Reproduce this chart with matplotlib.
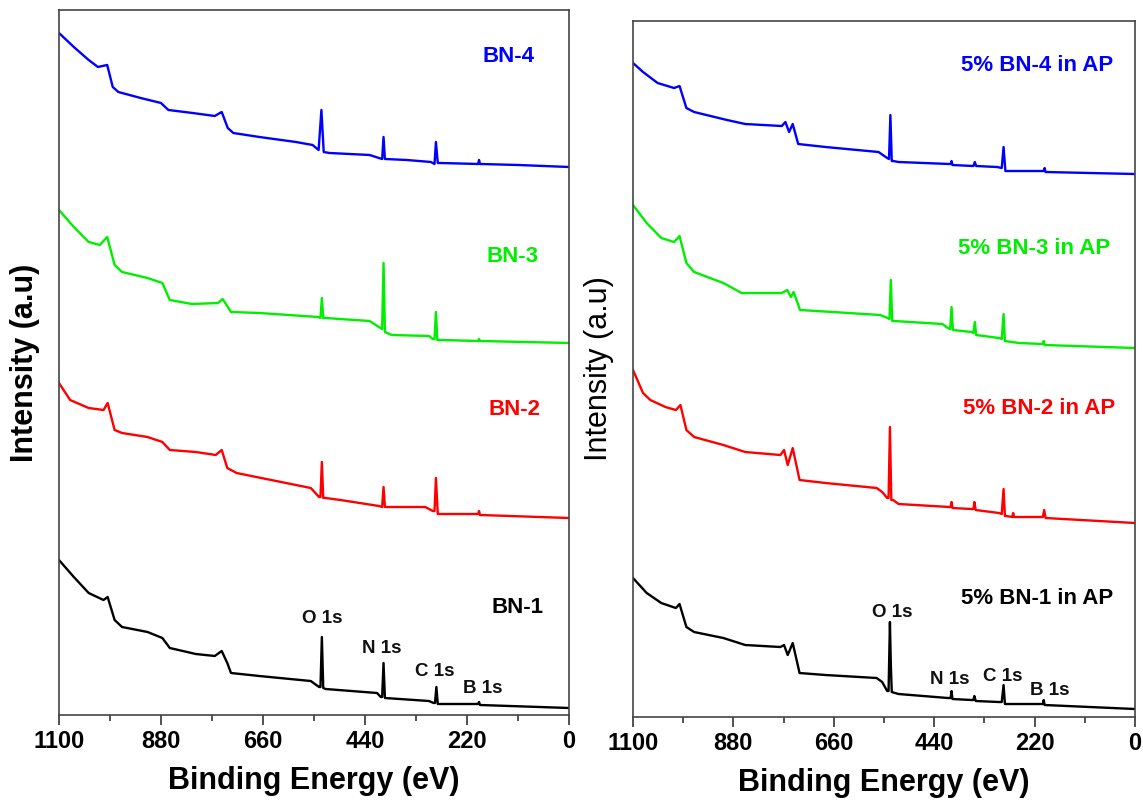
import numpy as np
import matplotlib
matplotlib.use("Agg")
import matplotlib.pyplot as plt
from matplotlib.ticker import MultipleLocator

plt.rcParams['font.family'] = ['Liberation Sans', 'DejaVu Sans']

# ---- data (binding energy in eV, intensity in a.u.) ----
# left panel: BN-1 .. BN-4
bn4_e = [1100, 1068, 1036, 1016, 996, 984, 972, 924, 880, 864, 812, 764, 749, 736, 724, 668, 589, 553, 540, 534, 529, 517, 430, 410, 403, 400, 397, 350, 298, 290, 287, 283, 278, 196, 194, 192, 110, 0]
bn4_i = [682, 668, 655, 648, 650, 628, 623, 617, 612, 605, 602, 599, 603, 587, 582, 578, 573, 570, 565, 605, 563, 562, 560, 557, 556, 578, 556, 555, 553, 551, 573, 552, 552, 551, 555, 551, 550, 548]

bn3_e = [1100, 1068, 1036, 1012, 996, 980, 964, 909, 877, 861, 813, 757, 747, 729, 668, 541, 536, 533, 530, 525, 430, 410, 403, 400, 397, 382, 302, 294, 290, 287, 284, 278, 196, 194, 192, 0]
bn3_i = [505, 488, 473, 470, 478, 450, 443, 437, 432, 415, 411, 412, 416, 403, 402, 398, 397, 417, 397, 397, 394, 388, 386, 452, 383, 380, 379, 376, 376, 403, 375, 375, 374, 376, 374, 372]

bn2_e = [1100, 1076, 1036, 1004, 995, 980, 964, 909, 877, 861, 805, 762, 749, 737, 717, 621, 557, 539, 536, 533, 530, 525, 493, 410, 403, 400, 397, 310, 294, 290, 287, 283, 274, 196, 194, 192, 0]
bn2_i = [332, 315, 307, 305, 312, 285, 282, 278, 273, 265, 263, 260, 265, 247, 242, 233, 227, 218, 218, 253, 217, 217, 215, 209, 208, 228, 208, 208, 204, 204, 237, 201, 201, 201, 204, 200, 197]

bn1_e = [1100, 1068, 1036, 1004, 995, 980, 964, 909, 877, 861, 805, 764, 749, 737, 729, 668, 557, 539, 536, 533, 530, 525, 414, 406, 403, 400, 397, 302, 292, 289, 286, 283, 278, 196, 194, 192, 0]
bn1_i = [155, 138, 122, 115, 118, 95, 88, 83, 77, 67, 61, 59, 64, 52, 42, 39, 34, 28, 28, 78, 27, 26, 22, 18, 18, 52, 17, 14, 12, 12, 28, 11, 11, 11, 13, 10, 7]

# right panel: 5% BN-x in AP
ap4_e = [1100, 1078, 1046, 1010, 998, 983, 966, 894, 854, 774, 766, 758, 750, 738, 678, 562, 543, 539, 536, 533, 530, 518, 406, 404, 402, 400, 354, 351, 348, 302, 292, 288, 284, 278, 200, 198, 196, 0]
ap4_i = [654, 645, 634, 629, 631, 609, 605, 597, 593, 591, 595, 585, 593, 573, 570, 565, 559, 558, 602, 556, 556, 555, 553, 553, 556, 552, 551, 555, 551, 550, 549, 570, 546, 546, 546, 549, 545, 543]

ap3_e = [1100, 1070, 1038, 1010, 998, 983, 966, 902, 862, 774, 762, 754, 748, 734, 662, 558, 542, 538, 535, 532, 527, 422, 410, 405, 402, 399, 358, 354, 351, 348, 298, 292, 288, 285, 254, 202, 200, 198, 0]
ap3_i = [512, 494, 479, 475, 481, 454, 445, 434, 424, 424, 427, 420, 425, 407, 405, 402, 399, 398, 437, 396, 396, 393, 389, 388, 410, 387, 385, 384, 395, 382, 379, 378, 403, 376, 374, 373, 376, 372, 369]

ap2_e = [1100, 1078, 1062, 1029, 1006, 996, 983, 966, 902, 854, 777, 769, 761, 750, 735, 678, 566, 554, 543, 540, 537, 534, 530, 518, 406, 404, 402, 400, 358, 354, 352, 349, 298, 292, 288, 285, 282, 269, 267, 265, 254, 202, 199, 196, 0]
ap2_i = [347, 324, 317, 310, 307, 312, 287, 280, 272, 265, 262, 267, 252, 269, 237, 234, 229, 225, 219, 219, 290, 217, 217, 213, 210, 210, 215, 209, 208, 208, 215, 207, 204, 203, 228, 201, 201, 200, 204, 200, 200, 200, 207, 199, 194]

ap1_e = [1100, 1070, 1038, 1006, 998, 983, 966, 902, 854, 777, 769, 761, 750, 735, 678, 566, 554, 543, 540, 537, 535, 533, 518, 410, 404, 402, 400, 358, 354, 352, 349, 298, 292, 288, 285, 282, 202, 200, 198, 0]
ap1_i = [139, 124, 114, 109, 113, 90, 85, 79, 72, 70, 72, 62, 74, 44, 42, 39, 35, 26, 26, 95, 52, 25, 23, 19, 19, 26, 18, 17, 17, 21, 16, 15, 15, 32, 13, 13, 13, 17, 12, 8]

left_names = ["BN-1", "BN-2", "BN-3", "BN-4"]
right_names = ["5% BN-1 in AP", "5% BN-2 in AP", "5% BN-3 in AP", "5% BN-4 in AP"]
colors = ["black", "#ff0000", "#00ee00", "#0000ff"]

left_series = [(bn1_e, bn1_i), (bn2_e, bn2_i), (bn3_e, bn3_i), (bn4_e, bn4_i)]
right_series = [(ap1_e, ap1_i), (ap2_e, ap2_i), (ap3_e, ap3_i), (ap4_e, ap4_i)]

# label anchors (energy, intensity)
left_label_pos = [(110, 107), (118, 305), (122, 458), (130, 658)]
right_label_pos = [(214, 119), (210, 309), (222, 469), (214, 652)]

peak_names = ["O 1s", "N 1s", "C 1s", "B 1s"]
left_peak_pos = [(532, 96), (404, 66), (290, 43), (186, 27)]
right_peak_pos = [(532, 105), (406, 38), (290, 41), (186, 27)]

fig = plt.figure(figsize=(11.43, 8.05), dpi=100)
ax1 = fig.add_axes([0.0516, 0.1118, 0.4462, 0.8758])
ax2 = fig.add_axes([0.5538, 0.1093, 0.4392, 0.8646])


def style_axis(ax, ymax, ylabel_weight):
    ax.set_xlim(1100, 0)
    ax.set_ylim(0, ymax)
    ax.xaxis.set_major_locator(MultipleLocator(220))
    ax.xaxis.set_minor_locator(MultipleLocator(110))
    ax.set_yticks([])
    ax.tick_params(axis='x', which='major', direction='out', length=7, width=1.2,
                   labelsize=17, pad=4, colors='#333333')
    ax.tick_params(axis='x', which='minor', direction='out', length=4, width=1.2, colors='#333333')
    for lab in ax.get_xticklabels():
        lab.set_fontweight('bold')
        lab.set_color('black')
    for sp in ax.spines.values():
        sp.set_color('#444444')
        sp.set_linewidth(1.2)
    ax.set_xlabel("Binding Energy (eV)", fontsize=22, fontweight='bold', labelpad=9)
    ax.set_ylabel("Intensity (a.u)", fontsize=22, fontweight=ylabel_weight, labelpad=14)


for (e, i), c in zip(left_series, colors):
    ax1.plot(e, i, color=c, lw=1.7)
for (e, i), c in zip(right_series, colors):
    ax2.plot(e, i, color=c, lw=1.7)

for name, (x, y), c in zip(left_names, left_label_pos, colors):
    ax1.text(x, y, name, color=c, fontsize=16, fontweight='bold', ha='center', va='center')
for name, (x, y), c in zip(right_names, right_label_pos, colors):
    ax2.text(x, y, name, color=c, fontsize=16, fontweight='bold', ha='center', va='center')

for name, (x, y) in zip(peak_names, left_peak_pos):
    ax1.text(x, y, name, fontsize=13.5, fontweight='bold', ha='center', va='center', color='#111111')
for name, (x, y) in zip(peak_names, right_peak_pos):
    ax2.text(x, y, name, fontsize=13.5, fontweight='bold', ha='center', va='center', color='#111111')

style_axis(ax1, 705, 'bold')
style_axis(ax2, 696, 'normal')

fig.savefig("out.png", dpi=100)
